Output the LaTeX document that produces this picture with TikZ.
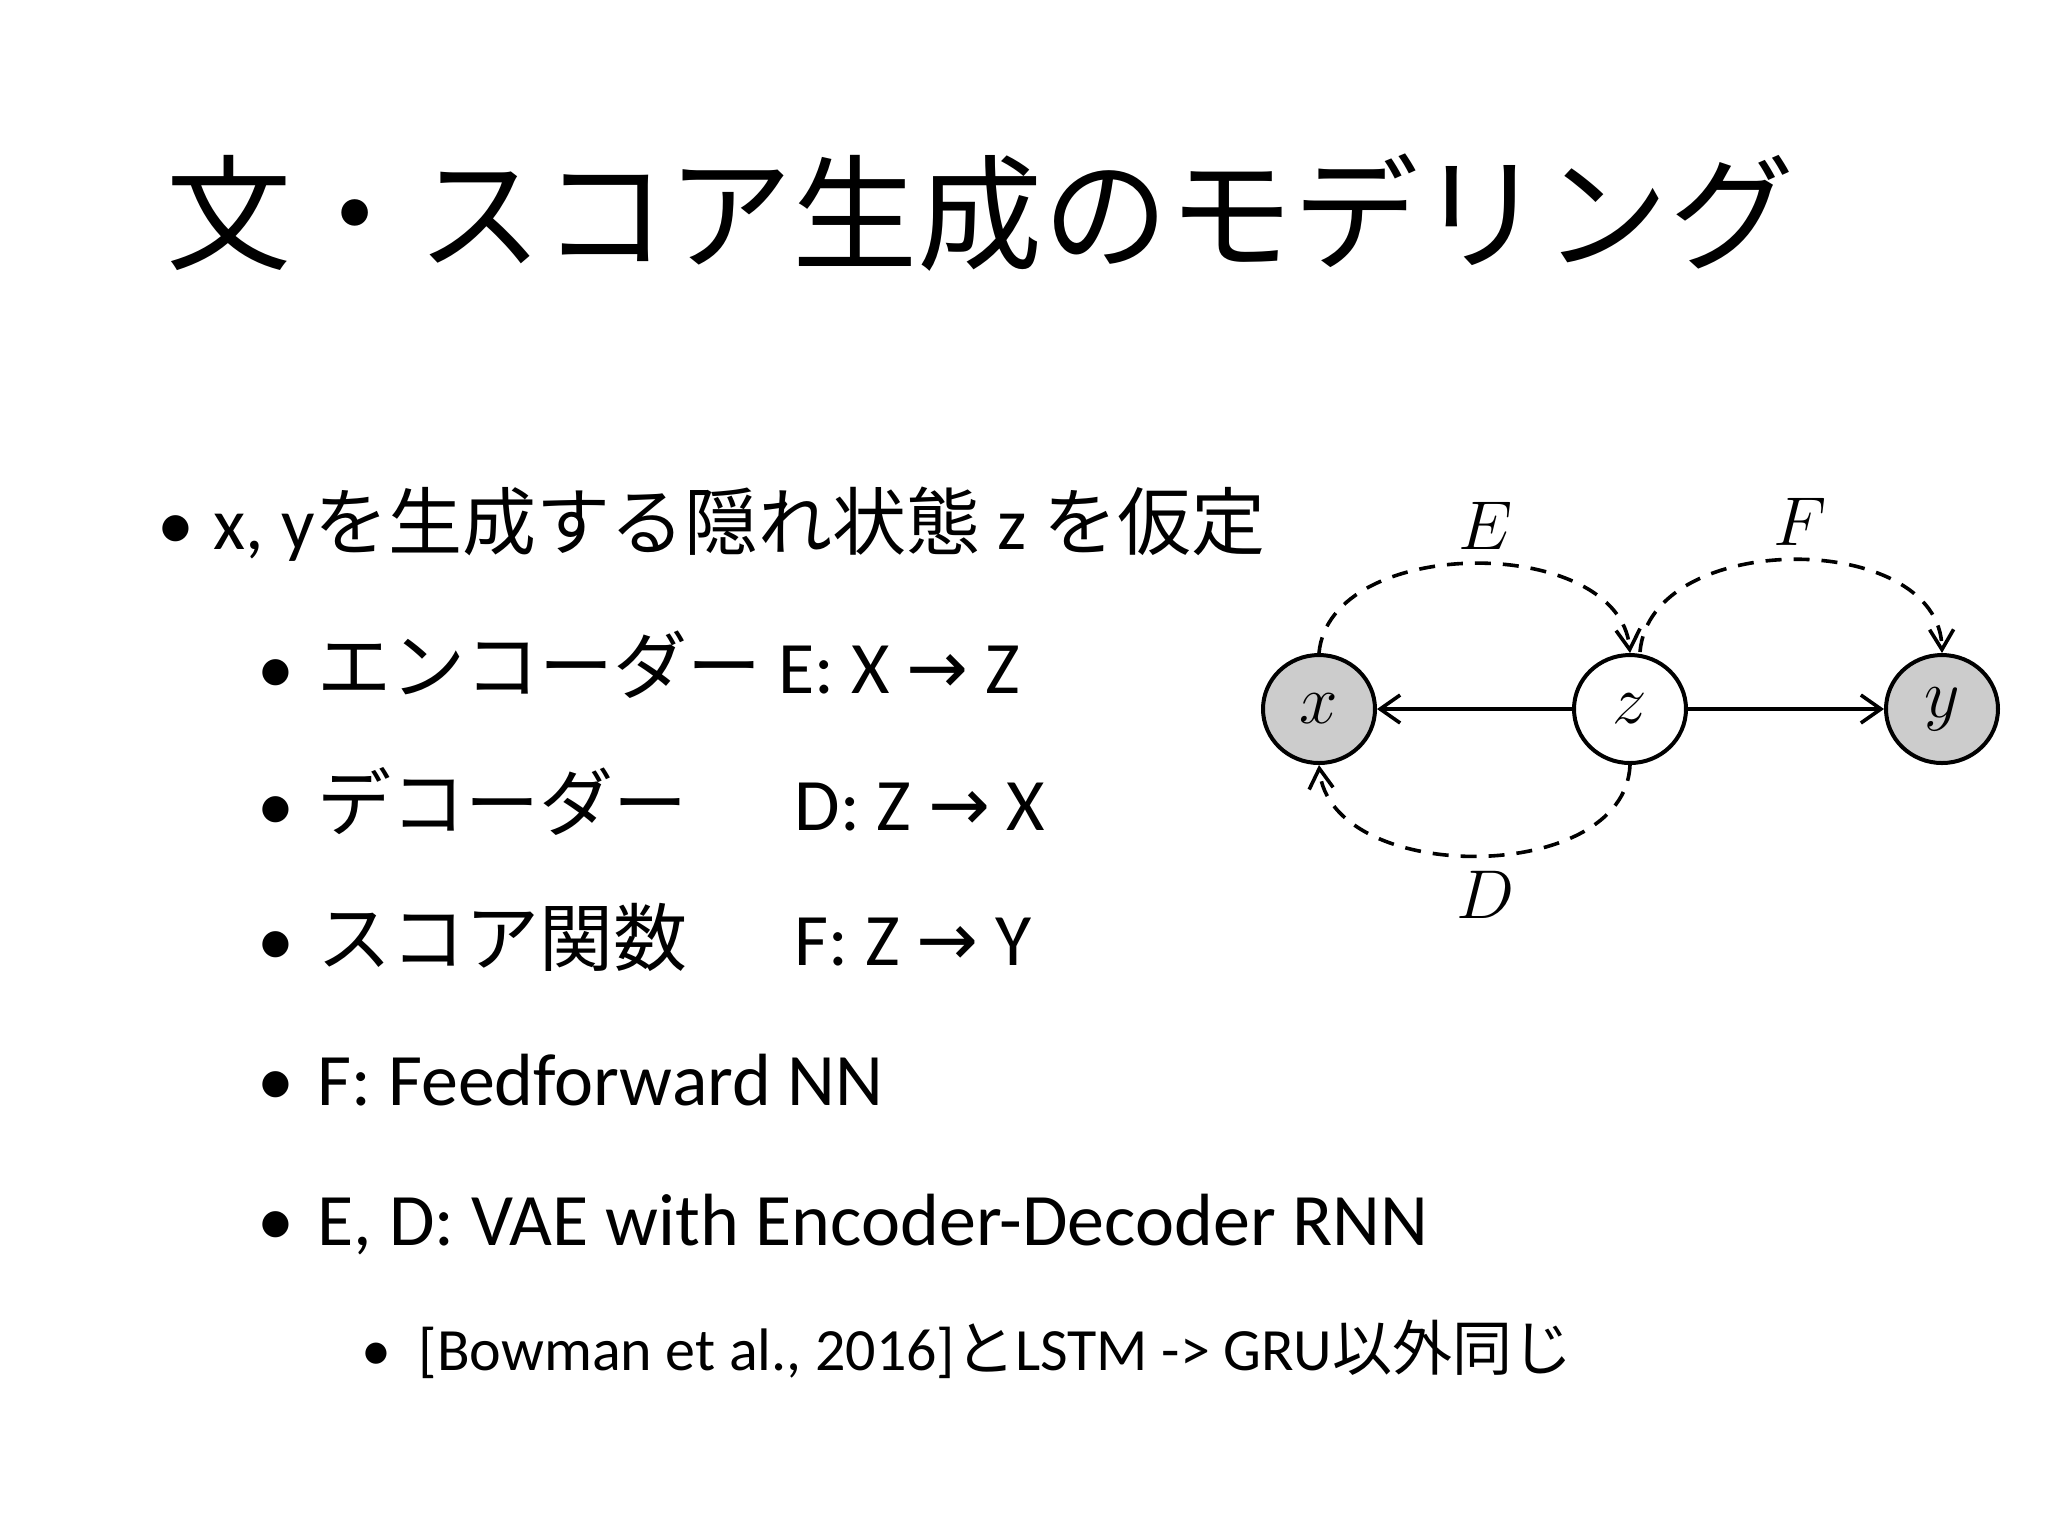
\documentclass[tikz,border=0pt]{standalone}
\usepackage{fontspec}
\setmainfont{Carlito}
\newfontfamily\jp{Noto Sans CJK JP}
\newfontfamily\dv{DejaVu Sans}
\usetikzlibrary{shapes.geometric,arrows.meta}
\begin{document}
\begin{tikzpicture}[x=0.25pt,y=0.25pt,
  txt/.style={anchor=base west,inner sep=0pt,font=\fontsize{18.5}{22}\selectfont},
  txtc/.style={anchor=base west,inner sep=0pt,font=\fontsize{15}{18}\selectfont},
  blt/.style={anchor=base,inner sep=0pt,font=\fontsize{18.5}{22}\selectfont},
  vnode/.style={draw,line width=1pt,ellipse,minimum width=28pt,minimum height=27pt,inner sep=0pt,font=\fontsize{19}{20}\selectfont},
  dsh/.style={dashed,dash pattern=on 4pt off 3pt,line width=0.9pt,-{Straight Barb[length=5pt,width=6pt]}},
  sol/.style={line width=0.9pt,-{Straight Barb[length=5pt,width=7pt]}},
  lab/.style={font=\fontsize{17}{18}\selectfont,inner sep=0pt}]
\useasboundingbox[fill=white] (0,0) rectangle (2048,-1536);
\node[anchor=base west,inner sep=0pt,font=\jp\fontsize{31.3}{34}\selectfont] (title) at (166,-260) {文・スコア生成のモデリング};
% bullets
\node[blt] (b1) at (176,-549) {•};
\node[txt] (t1) at (213,-549) {x, y{\jp を生成する隠れ状態} z {\jp を仮定}};
\node[blt] (b2) at (276,-693) {•};
\node[txt] (t2) at (317,-693) {{\jp エンコーダー} E: X {\dv →} Z};
\node[blt] (b3) at (276,-830) {•};
\node[txt] (t3) at (317,-830) {\jp デコーダー};
\node[txt] (t3b) at (794,-830) {D: Z {\dv →} X};
\node[blt] (b4) at (276,-965) {•};
\node[txt] (t4) at (317,-965) {\jp スコア関数};
\node[txt] (t4b) at (794,-965) {F: Z {\dv →} Y};
\node[blt] (b5) at (276,-1105) {•};
\node[txt] (t5) at (317,-1105) {F: Feedforward NN};
\node[blt] (b6) at (276,-1245) {•};
\node[txt] (t6) at (317,-1245) {E, D: VAE with Encoder-Decoder RNN};
\node[blt,font=\fontsize{15}{18}\selectfont] (b7) at (376,-1370) {•};
\node[txtc] (t7) at (418,-1370) {[Bowman et al., 2016]{\jp と}LSTM -> GRU{\jp 以外同じ}};
% diagram
\node[vnode,fill=black!20] (x) at (1319,-709) {$x$};
\node[vnode,fill=white] (z) at (1630,-709) {$z$};
\node[vnode,fill=black!20] (y) at (1942,-709) {$y$};
\draw[sol] (z) -- (x);
\draw[sol] (z) -- (y);
\draw[dsh] (x.north) .. controls (1330,-534) and (1620,-534) .. (z.north);
\draw[dsh] (1640,-652) .. controls (1650,-529) and (1940,-529) .. (y.north);
\draw[dsh] (z.south) .. controls (1625,-886) and (1330,-886) .. (x.south);
\node[lab] (E) at (1486,-526) {$E$};
\node[lab] (F) at (1800,-522) {$F$};
\node[lab] (D) at (1486,-895) {$D$};
\end{tikzpicture}
\end{document}
